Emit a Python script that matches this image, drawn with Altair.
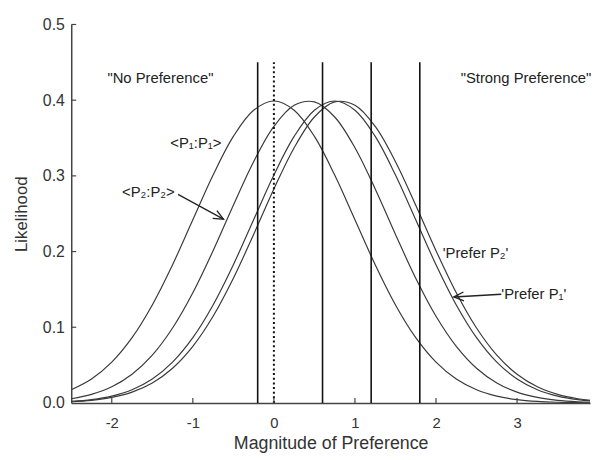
import altair as alt
import pandas as pd

# ---- data ----
x_grid = [-2.5, -2.25, -2.0, -1.75, -1.5, -1.25, -1.0, -0.75, -0.5, -0.25, 0.0,
          0.25, 0.5, 0.75, 1.0, 1.25, 1.5, 1.75, 2.0, 2.25, 2.5, 2.75, 3.0, 3.25,
          3.5, 3.75, 4.0]

curve_p1p1 = [0.0175, 0.0317, 0.0540, 0.0863, 0.1295, 0.1826, 0.2420, 0.3011, 0.3521,
              0.3867, 0.3989, 0.3867, 0.3521, 0.3011, 0.2420, 0.1826, 0.1295, 0.0863,
              0.0540, 0.0317, 0.0175, 0.0091, 0.0044, 0.0020, 0.0009, 0.0004, 0.0001]
curve_p2p2 = [0.0056, 0.0113, 0.0213, 0.0379, 0.0632, 0.0990, 0.1456, 0.2012, 0.2613,
              0.3187, 0.3653, 0.3932, 0.3977, 0.3778, 0.3372, 0.2827, 0.2227, 0.1647,
              0.1145, 0.0748, 0.0459, 0.0264, 0.0143, 0.0073, 0.0035, 0.0016, 0.0007]
curve_prefer_p2 = [0.0020, 0.0044, 0.0091, 0.0175, 0.0317, 0.0540, 0.0863, 0.1295, 0.1826,
                   0.2420, 0.3011, 0.3521, 0.3867, 0.3989, 0.3867, 0.3521, 0.3011, 0.2420,
                   0.1826, 0.1295, 0.0863, 0.0540, 0.0317, 0.0175, 0.0091, 0.0044, 0.0020]
curve_prefer_p1 = [0.0016, 0.0035, 0.0073, 0.0143, 0.0264, 0.0459, 0.0748, 0.1145, 0.1647,
                   0.2227, 0.2827, 0.3372, 0.3778, 0.3977, 0.3932, 0.3653, 0.3187, 0.2613,
                   0.2012, 0.1456, 0.0990, 0.0632, 0.0379, 0.0213, 0.0113, 0.0056, 0.0026]

solid_cuts = [-0.2, 0.6, 1.2, 1.8]
dotted_cuts = [0.0]
cut_top = 0.45

x_tick_values = [-2, -1, 0, 1, 2, 3]
y_tick_values = [0.1, 0.2, 0.3, 0.4, 0.5]

label_texts = ['"No Preference"', '"Strong Preference"', "<P\u2081:P\u2081>",
               "<P\u2082:P\u2082>", "'Prefer P\u2082'", "'Prefer P\u2081'"]
label_x = [-1.40, 3.11, -0.963, -1.549, 2.488, 3.207]
label_y = [0.429, 0.429, 0.343, 0.278, 0.198, 0.1436]

arrow_x_start = [-1.183, 2.805]
arrow_y_start = [0.2755, 0.1436]
arrow_x_tip = [-0.622, 2.22]
arrow_y_tip = [0.2428, 0.140]
arrow_angle = [28.5, 176.8]

# ---- tables ----
series = {"<P1:P1>": curve_p1p1, "<P2:P2>": curve_p2p2,
          "Prefer P2": curve_prefer_p2, "Prefer P1": curve_prefer_p1}
curves = pd.DataFrame([
    {"series": name, "x": xv, "y": yv}
    for name, vals in series.items() for xv, yv in zip(x_grid, vals)
])
solid_df = pd.DataFrame({"x": solid_cuts, "y0": [0.0] * len(solid_cuts),
                         "y1": [cut_top] * len(solid_cuts)})
dotted_df = pd.DataFrame({"x": dotted_cuts, "y0": [0.0] * len(dotted_cuts),
                          "y1": [cut_top] * len(dotted_cuts)})
labels_df = pd.DataFrame({"text": label_texts, "x": label_x, "y": label_y})
arrows_df = pd.DataFrame({"x": arrow_x_start, "y": arrow_y_start,
                          "x2": arrow_x_tip, "y2": arrow_y_tip, "angle": arrow_angle})
xticks_df = pd.DataFrame({"x": x_tick_values})
yticks_df = pd.DataFrame({"y": y_tick_values})

W, H = 525, 383
FONT = "Liberation Sans"
AX = "#444444"

xscale = alt.Scale(domain=[-2.5, 3.9], nice=False, zero=False)
yscale = alt.Scale(domain=[0, 0.5], nice=False, zero=True)

xaxis = alt.Axis(values=x_tick_values, labelExpr="'' + datum.value", ticks=False,
                 grid=False, labelPadding=13, labelFontSize=15, labelFlush=False,
                 title="Magnitude of Preference", titleFontSize=18,
                 titlePadding=4, titleFontWeight="normal")
yaxis = alt.Axis(values=[0.0] + y_tick_values, format=".1f", ticks=False, grid=False,
                 labelPadding=7, labelFontSize=16, labelFlush=False,
                 title="Likelihood", titleFontSize=17, titlePadding=12,
                 titleFontWeight="normal")

lines = alt.Chart(curves).mark_line(
    clip=True, color="#3a3a3a", strokeWidth=1.2, interpolate="catmull-rom"
).encode(
    x=alt.X("x:Q", scale=xscale, axis=xaxis),
    y=alt.Y("y:Q", scale=yscale, axis=yaxis),
    detail="series:N",
)

solid = alt.Chart(solid_df).mark_rule(color="#111111", strokeWidth=1.6).encode(
    x="x:Q", y="y0:Q", y2="y1:Q")
dotted = alt.Chart(dotted_df).mark_rule(
    color="#111111", strokeWidth=2, strokeDash=[2, 2.7]).encode(
    x="x:Q", y="y0:Q", y2="y1:Q")

xticks = alt.Chart(xticks_df).mark_rule(color=AX, strokeWidth=1.2).encode(
    x="x:Q", y=alt.value(H), y2=alt.value(H - 5))
yticks = alt.Chart(yticks_df).mark_rule(color=AX, strokeWidth=1.2).encode(
    y="y:Q", x=alt.value(0), x2=alt.value(5))

texts = alt.Chart(labels_df).mark_text(
    font=FONT, fontSize=15, color="#222222", align="center", baseline="middle"
).encode(x="x:Q", y="y:Q", text="text:N")

shafts = alt.Chart(arrows_df).mark_rule(color="#222222", strokeWidth=1.3).encode(
    x="x:Q", y="y:Q", x2="x2:Q", y2="y2:Q")
heads = alt.Chart(arrows_df).mark_point(
    shape="M -1 -0.45 L 0 0 L -1 0.45", filled=False, size=400,
    color="#222222", strokeWidth=1.4, opacity=1
).encode(x="x2:Q", y="y2:Q", angle=alt.Angle("angle:Q", scale=None))

chart = alt.layer(lines, solid, dotted, xticks, yticks, texts, shafts, heads).properties(
    width=W, height=H,
    autosize=alt.AutoSizeParams(type="none"),
    padding={"left": 64, "top": 14, "right": 2, "bottom": 52},
).configure_view(stroke=None).configure_axis(
    domainColor=AX, domainWidth=1.5, labelColor="#333333", titleColor="#333333",
    labelFont=FONT, titleFont=FONT,
)

chart.save("out.html", embed_options={"renderer": "svg", "actions": False})
